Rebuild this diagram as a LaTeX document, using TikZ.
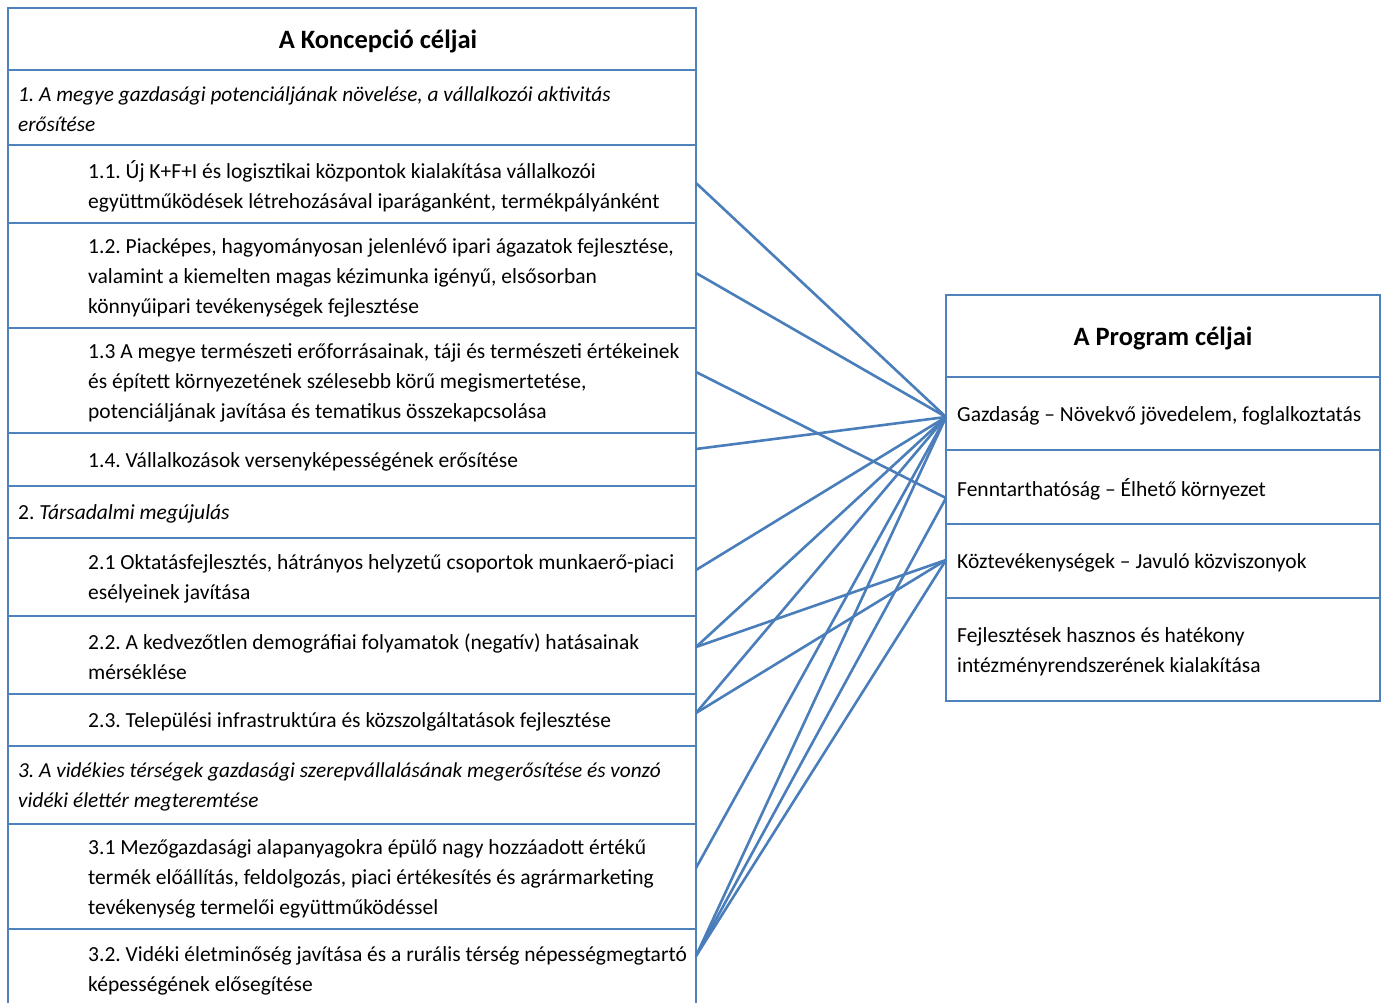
\documentclass[tikz,border=0pt]{standalone}
\usepackage{fontspec}
\setmainfont{Carlito}
\usetikzlibrary{positioning}

\definecolor{tblue}{HTML}{4F81BD}
\definecolor{lblue}{HTML}{4A7EBB}
\frenchspacing

\begin{document}
\begin{tikzpicture}[
  x=1pt, y=-1pt,
  krow/.style={draw=tblue, line width=1.5pt, minimum width=688pt, inner sep=0pt, outer sep=0pt},
  prow/.style={draw=tblue, line width=1.5pt, minimum width=434pt, inner sep=0pt, outer sep=0pt},
  txt/.style={anchor=west, align=left, inner sep=0pt, yshift=-2pt, font=\fontsize{21.5}{30}\selectfont},
  itxt/.style={txt, font=\fontsize{21.3}{30}\selectfont\itshape},
  head/.style={inner sep=0pt, font=\fontsize{26.5}{30}\selectfont\bfseries},
  link/.style={draw=lblue, line width=2.6pt}
]

\useasboundingbox (0,0) rectangle (1381,1003);

% Left table: A Koncepció céljai
\node[krow, minimum height=62pt, anchor=north west] (kh) at (8,8) {};
\node[krow, minimum height=75pt, below=0pt of kh] (k1) {};
\node[krow, minimum height=78pt, below=0pt of k1] (k11) {};
\node[krow, minimum height=105pt, below=0pt of k11] (k12) {};
\node[krow, minimum height=105pt, below=0pt of k12] (k13) {};
\node[krow, minimum height=53pt, below=0pt of k13] (k14) {};
\node[krow, minimum height=52pt, below=0pt of k14] (k2) {};
\node[krow, minimum height=78pt, below=0pt of k2] (k21) {};
\node[krow, minimum height=78pt, below=0pt of k21] (k22) {};
\node[krow, minimum height=52pt, below=0pt of k22] (k23) {};
\node[krow, minimum height=78pt, below=0pt of k23] (k3) {};
\node[krow, minimum height=105pt, below=0pt of k3] (k31) {};
\node[krow, minimum height=80pt, below=0pt of k31] (k32) {};

\node[head] (khT) at ([xshift=26pt,yshift=-2pt]kh.center) {A Koncepció céljai};
\node[itxt] (k1T) at ([xshift=10pt]k1.west) {1. A megye gazdasági potenciáljának növelése, a vállalkozói aktivitás\\erősítése};
\node[txt] (k11T) at ([xshift=80pt]k11.west) {1.1. Új K+F+I és logisztikai központok kialakítása vállalkozói\\együttműködések létrehozásával iparáganként, termékpályánként};
\node[txt] (k12T) at ([xshift=80pt]k12.west) {1.2. Piacképes, hagyományosan jelenlévő ipari ágazatok fejlesztése,\\valamint a kiemelten magas kézimunka igényű, elsősorban\\könnyűipari tevékenységek fejlesztése};
\node[txt] (k13T) at ([xshift=80pt]k13.west) {1.3 A megye természeti erőforrásainak, táji és természeti értékeinek\\és épített környezetének szélesebb körű megismertetése,\\potenciáljának javítása és tematikus összekapcsolása};
\node[txt] (k14T) at ([xshift=80pt]k14.west) {1.4. Vállalkozások versenyképességének erősítése};
\node[txt] (k2T) at ([xshift=10pt]k2.west) {2. \textit{Társadalmi megújulás}};
\node[txt] (k21T) at ([xshift=80pt]k21.west) {2.1 Oktatásfejlesztés, hátrányos helyzetű csoportok munkaerő-piaci\\esélyeinek javítása};
\node[txt] (k22T) at ([xshift=80pt]k22.west) {2.2. A kedvezőtlen demográfiai folyamatok (negatív) hatásainak\\mérséklése};
\node[txt] (k23T) at ([xshift=80pt]k23.west) {2.3. Települési infrastruktúra és közszolgáltatások fejlesztése};
\node[itxt] (k3T) at ([xshift=10pt]k3.west) {3. A vidékies térségek gazdasági szerepvállalásának megerősítése és vonzó\\vidéki élettér megteremtése};
\node[txt] (k31T) at ([xshift=80pt]k31.west) {3.1 Mezőgazdasági alapanyagokra épülő nagy hozzáadott értékű\\termék előállítás, feldolgozás, piaci értékesítés és agrármarketing\\tevékenység termelői együttműködéssel};
\node[txt] (k32T) at ([xshift=80pt]k32.west) {3.2. Vidéki életminőség javítása és a rurális térség népességmegtartó\\képességének elősegítése};

% Right table: A Program céljai
\node[prow, minimum height=82pt, anchor=north west] (ph) at (946,295) {};
\node[prow, minimum height=73pt, below=0pt of ph] (pg) {};
\node[prow, minimum height=74pt, below=0pt of pg] (pf) {};
\node[prow, minimum height=74pt, below=0pt of pf] (pk) {};
\node[prow, minimum height=103pt, below=0pt of pk] (pj) {};

\node[head] (phT) at ([yshift=-2pt]ph.center) {A Program céljai};
\node[txt] (pgT) at ([xshift=11pt]pg.west) {Gazdaság – Növekvő jövedelem, foglalkoztatás};
\node[txt] (pfT) at ([xshift=11pt]pf.west) {Fenntarthatóság – Élhető környezet};
\node[txt] (pkT) at ([xshift=11pt]pk.west) {Köztevékenységek – Javuló közviszonyok};
\node[txt] (pjT) at ([xshift=11pt]pj.west) {Fejlesztések hasznos és hatékony\\intézményrendszerének kialakítása};

% Links
\draw[link] ([yshift=1pt]k11.east) -- ([yshift=-3.5pt]pg.west);
\draw[link] ([yshift=2.5pt]k12.east) -- ([yshift=-3.5pt]pg.west);
\draw[link] ([yshift=8.5pt]k13.east) -- ([yshift=-11pt]pf.west);
\draw[link] ([yshift=10.5pt]k14.east) -- ([yshift=-3.5pt]pg.west);
\draw[link] ([yshift=7pt]k21.east) -- ([yshift=-3.5pt]pg.west);
\draw[link] ([yshift=8pt]k22.east) -- ([yshift=-3.5pt]pg.west);
\draw[link] ([yshift=8pt]k22.east) -- ([yshift=1pt]pk.west);
\draw[link] ([yshift=7pt]k23.east) -- ([yshift=-3.5pt]pg.west);
\draw[link] ([yshift=7pt]k23.east) -- ([yshift=1pt]pk.west);
\draw[link] ([yshift=8.5pt]k31.east) -- ([yshift=-3.5pt]pg.west);
\draw[link] ([yshift=13pt]k32.east) -- ([yshift=-3.5pt]pg.west);
\draw[link] ([yshift=13pt]k32.east) -- ([yshift=-11pt]pf.west);
\draw[link] ([yshift=13pt]k32.east) -- ([yshift=1pt]pk.west);

\end{tikzpicture}
\end{document}
